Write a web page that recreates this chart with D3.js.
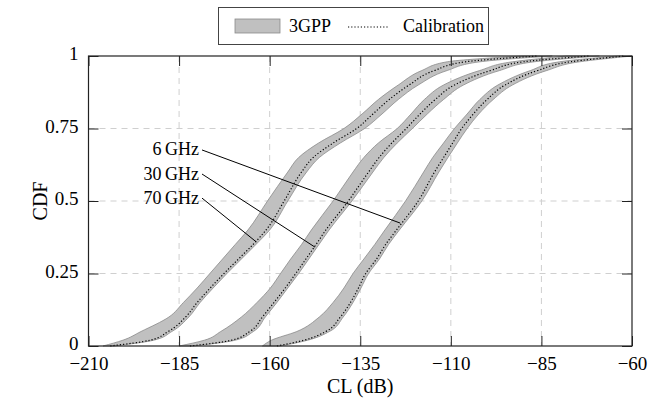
<!DOCTYPE html>
<html>
<head>
<meta charset="utf-8">
<script src="https://cdn.jsdelivr.net/npm/d3@7"></script>
<style>
  body { margin: 0; background: #fff; }
  svg { display: block; font-family: "Liberation Serif", "Times New Roman", serif; }
</style>
</head>
<body>
<svg id="chart" width="669" height="401"></svg>
<script>
var plotLeft = 88.5, plotRight = 632, plotTop = 56, plotBottom = 346;

// CDF levels shared by every curve
var cdf = [0, 0.02, 0.05, 0.1, 0.15, 0.2, 0.25, 0.3, 0.35, 0.4, 0.5, 0.6, 0.65, 0.7, 0.75, 0.8, 0.85, 0.9, 0.95, 0.98, 1];

// 70 GHz: 3GPP band edges and calibration (CL in dB)
var lo70  = [-206, -200.5, -195.5, -187.8, -183.8, -180, -176.5, -173, -169.5, -166, -160.6, -155, -152, -146.5, -139.5, -134.5, -130, -124.5, -118, -111, -90];
var hi70  = [-203, -192, -187, -182.3, -179.2, -175.6, -171.8, -167.8, -163.8, -160, -155, -149.8, -146.3, -140.5, -133.8, -129, -124.5, -119, -111, -102, -82];
var cal70 = [-204, -193, -188, -183.2, -180, -176.4, -172.6, -168.6, -164.6, -161, -156, -151.2, -148, -142.5, -136, -131.5, -127, -121.5, -114.5, -106, -86];

// 30 GHz
var lo30  = [-185, -178, -173.5, -167.8, -163.5, -159.8, -157, -154.2, -151.2, -148.5, -142.5, -137, -134, -130, -124.8, -121, -117.3, -112, -102, -93, -78];
var hi30  = [-181, -169.5, -164.5, -161.2, -158, -155, -152, -149.2, -146.4, -143.6, -137.3, -131.5, -128.5, -124.8, -120.6, -116.5, -112, -106.5, -96.5, -87, -69];
var cal30 = [-182, -170.5, -165.5, -162, -158.8, -155.7, -152.8, -150, -147.2, -144.5, -138.3, -132.7, -129.8, -126.3, -122.3, -118.5, -114.3, -109, -99, -90, -72];

// 6 GHz
var lo6  = [-162, -159.5, -152.5, -146.3, -142.5, -139.5, -137, -134, -131, -128.2, -122.5, -117.5, -115, -112, -109, -105.5, -102, -97, -88, -80, -64];
var hi6  = [-157, -149.5, -143.5, -139.7, -137, -134.8, -132.7, -129.7, -127.2, -124.2, -118, -113.3, -110.8, -108.2, -105.5, -102.3, -98.3, -93, -83.5, -74.5, -60];
var cal6 = [-158, -150.5, -144.5, -140.5, -137.7, -135.5, -133.5, -130.5, -128, -125, -119, -114.5, -112, -109.5, -107, -103.8, -100, -95, -86, -77, -62];

var xTicks = [-210, -185, -160, -135, -110, -85, -60];
var yTicks = [0, 0.25, 0.5, 0.75, 1];

// annotation labels and the calibration points they point at
var labels   = ["6\u2009GHz", "30\u2009GHz", "70\u2009GHz"];
var labelCL  = [-179.5, -179.5, -179.5];
var labelCdf = [0.676, 0.593, 0.51];
var pointCL  = [-124, -147.5, -163.7];
var pointCdf = [0.424, 0.341, 0.359];

var svg = d3.select("#chart");

var x = d3.scaleLinear().domain([-210, -60]).range([plotLeft, plotRight]);
var y = d3.scaleLinear().domain([0, 1]).range([plotBottom, plotTop]);

// grid
svg.append("g")
  .selectAll("line")
  .data(xTicks.slice(1, -1))
  .enter().append("line")
  .attr("x1", d => x(d)).attr("x2", d => x(d))
  .attr("y1", plotTop).attr("y2", plotBottom)
  .attr("stroke", "#cfcfcf").attr("stroke-dasharray", "6,5");

svg.append("g")
  .selectAll("line")
  .data(yTicks.slice(1, -1))
  .enter().append("line")
  .attr("x1", plotLeft).attr("x2", plotRight)
  .attr("y1", d => y(d)).attr("y2", d => y(d))
  .attr("stroke", "#cfcfcf").attr("stroke-dasharray", "6,5");

var curves = [
  { lo: lo70, hi: hi70, cal: cal70 },
  { lo: lo30, hi: hi30, cal: cal30 },
  { lo: lo6, hi: hi6, cal: cal6 }
];

var area = d3.area()
  .x0(d => x(d.lo)).x1(d => x(d.hi)).y(d => y(d.p))
  .curve(d3.curveMonotoneY);

var line = d3.line()
  .x(d => x(d.v)).y(d => y(d.p))
  .curve(d3.curveMonotoneY);

var plot = svg.append("g");

curves.forEach(function(c) {
  var band = cdf.map((p, i) => ({ p: p, lo: c.lo[i], hi: c.hi[i] }));
  plot.append("path")
    .attr("d", area(band))
    .attr("fill", "#c0c0c0")
    .attr("stroke", "#8a8a8a")
    .attr("stroke-width", 0.8);
});

curves.forEach(function(c) {
  var pts = cdf.map((p, i) => ({ p: p, v: c.cal[i] }));
  plot.append("path")
    .attr("d", line(pts))
    .attr("fill", "none")
    .attr("stroke", "#000")
    .attr("stroke-width", 1.2)
    .attr("stroke-dasharray", "1.2,2");
});

// leaders and labels
labels.forEach(function(t, i) {
  svg.append("line")
    .attr("x1", x(labelCL[i]) + 3).attr("y1", y(labelCdf[i]))
    .attr("x2", x(pointCL[i])).attr("y2", y(pointCdf[i]))
    .attr("stroke", "#000").attr("stroke-width", 1);
  svg.append("text")
    .attr("x", x(labelCL[i])).attr("y", y(labelCdf[i]) + 5.5)
    .attr("text-anchor", "end")
    .attr("font-size", 18)
    .text(t);
});

// axes with inward ticks
function styleAxis(g) {
  g.select(".domain").remove();
  g.selectAll(".tick line").attr("stroke", "#222");
  g.selectAll(".tick text").attr("font-family", "Liberation Serif, serif").attr("font-size", 19).attr("fill", "#000");
}

svg.append("g")
  .attr("transform", "translate(0," + plotBottom + ")")
  .call(d3.axisBottom(x).tickValues(xTicks).tickSizeInner(-10).tickSizeOuter(0).tickPadding(11))
  .call(styleAxis);

svg.append("g")
  .attr("transform", "translate(0," + plotTop + ")")
  .call(d3.axisTop(x).tickValues(xTicks).tickSizeInner(-10).tickSizeOuter(0).tickFormat(""))
  .call(styleAxis);

svg.append("g")
  .attr("transform", "translate(" + plotLeft + ",0)")
  .call(d3.axisLeft(y).tickValues(yTicks).tickSizeInner(-10).tickSizeOuter(0).tickPadding(10).tickFormat(d => String(d)))
  .call(styleAxis)
  .selectAll(".tick text").attr("dy", "0.2em");

svg.append("g")
  .attr("transform", "translate(" + plotRight + ",0)")
  .call(d3.axisRight(y).tickValues(yTicks).tickSizeInner(-10).tickSizeOuter(0).tickFormat(""))
  .call(styleAxis);

svg.append("rect")
  .attr("x", plotLeft).attr("y", plotTop)
  .attr("width", plotRight - plotLeft).attr("height", plotBottom - plotTop)
  .attr("fill", "none").attr("stroke", "#222").attr("stroke-width", 1.2);

// axis titles
svg.append("text")
  .attr("x", (plotLeft + plotRight) / 2).attr("y", 393)
  .attr("text-anchor", "middle").attr("font-size", 20)
  .text("CL (dB)");

svg.append("text")
  .attr("transform", "translate(47," + ((plotTop + plotBottom) / 2) + ") rotate(-90)")
  .attr("text-anchor", "middle").attr("font-size", 20)
  .text("CDF");

// legend
var legend = svg.append("g");
legend.append("rect")
  .attr("x", 218.5).attr("y", 7.5).attr("width", 270).attr("height", 37)
  .attr("fill", "#fff").attr("stroke", "#444").attr("stroke-width", 1);
legend.append("rect")
  .attr("x", 235).attr("y", 19).attr("width", 45).attr("height", 14)
  .attr("fill", "#c0c0c0").attr("stroke", "#8a8a8a").attr("stroke-width", 0.8);
legend.append("text")
  .attr("x", 289).attr("y", 32).attr("font-size", 18).text("3GPP");
legend.append("line")
  .attr("x1", 348).attr("x2", 389).attr("y1", 27).attr("y2", 27)
  .attr("stroke", "#000").attr("stroke-width", 1.2).attr("stroke-dasharray", "1.2,2");
legend.append("text")
  .attr("x", 403).attr("y", 32).attr("font-size", 18).text("Calibration");
</script>
</body>
</html>
